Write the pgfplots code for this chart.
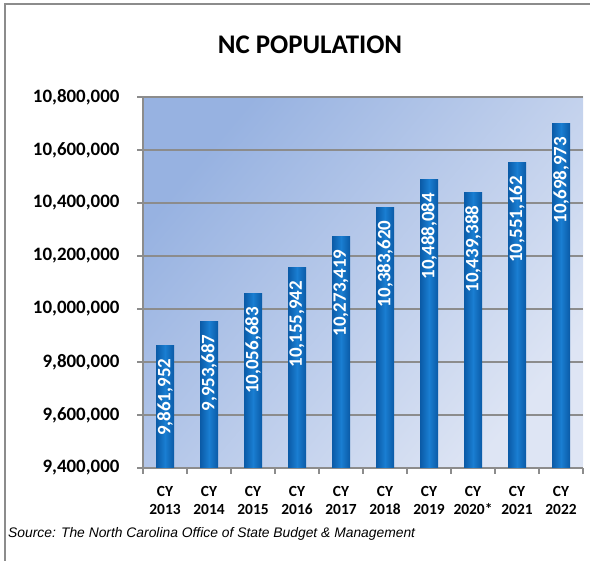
\documentclass[border=0pt]{standalone}
\usepackage{pgfplots}
\pgfplotsset{compat=1.18}
\usepackage{fontspec}
\setmainfont{Carlito}
\newfontfamily\arialfont{Liberation Sans}
\definecolor{bgA}{HTML}{97B2E1}
\definecolor{bgB}{HTML}{DEE5F4}
\definecolor{barD}{HTML}{0A5AA6}
\definecolor{barL}{HTML}{1A7ED2}
\definecolor{gridc}{HTML}{8C8C8C}

\begin{document}
\begin{tikzpicture}
\path[use as bounding box] (0,0) rectangle (590bp,561bp);
\draw[gridc, line width=1.5bp] (5bp,0) -- (5bp,557bp) -- (590bp,557bp);
\node[font=\fontsize{27}{32}\selectfont\bfseries] at (310bp,516bp) {NC POPULATION};
\node[anchor=base west, font=\arialfont\itshape\fontsize{13.9}{16}\selectfont, inner sep=0pt] at (8bp,24bp) {Source: The North Carolina Office of State Budget \& Management};
\begin{axis}[
  at={(143bp,93bp)}, anchor=south west,
  scale only axis, width=440bp, height=371bp,
  xmin=-0.5, xmax=9.5, ymin=9400000, ymax=10800000,
  ybar, bar width=18bp,
  mybar/.style={draw=none, shade, left color=barD, right color=barD, middle color=barL, bar shift=0pt},
  axis x line*=bottom, axis y line*=left,
  x axis line style={gridc, line width=1.5bp},
  y axis line style={gridc, line width=2bp},
  axis background/.style={shade, top color=bgA, bottom color=bgB, shading angle=50},
  tick align=outside,
  major tick length=6bp, minor tick length=6bp,
  scaled y ticks=false,
  xtick={0,1,2,3,4,5,6,7,8,9},
  xticklabels={{CY\\2013},{CY\\2014},{CY\\2015},{CY\\2016},{CY\\2017},{CY\\2018},{CY\\2019},{CY\\2020*},{CY\\2021},{CY\\2022}},
  minor xtick={-0.5,0.5,1.5,2.5,3.5,4.5,5.5,6.5,7.5,8.5,9.5},
  major x tick style={draw=none},
  minor x tick style={gridc, line width=1.2bp},
  xticklabel style={align=center, font=\fontsize{15.5}{18}\selectfont\bfseries, text=black, yshift=-9bp},
  ytick={9400000,9600000,9800000,10000000,10200000,10400000,10600000,10800000},
  yticklabels={{9,400,000},{9,600,000},{9,800,000},{10,000,000},{10,200,000},{10,400,000},{10,600,000},{10,800,000}},
  yticklabel style={font=\fontsize{19}{22}\selectfont\bfseries, text=black, xshift=-14bp},
  ytick style={gridc, line width=1.2bp},
  ymajorgrids, grid style={gridc, line width=1.2bp},
  nodes near coords, point meta=explicit symbolic,
  every node near coord/.append style={yshift=-13bp, rotate=90, anchor=east, text=white, font=\fontsize{19}{22}\selectfont\bfseries, inner sep=0pt},
]
\addplot[mybar] coordinates {(0,9861952) [9,861,952]};
\addplot[mybar] coordinates {(1,9953687) [9,953,687]};
\addplot[mybar] coordinates {(2,10056683) [10,056,683]};
\addplot[mybar] coordinates {(3,10155942) [10,155,942]};
\addplot[mybar] coordinates {(4,10273419) [10,273,419]};
\addplot[mybar] coordinates {(5,10383620) [10,383,620]};
\addplot[mybar] coordinates {(6,10488084) [10,488,084]};
\addplot[mybar] coordinates {(7,10439388) [10,439,388]};
\addplot[mybar] coordinates {(8,10551162) [10,551,162]};
\addplot[mybar] coordinates {(9,10698973) [10,698,973]};
\end{axis}
\end{tikzpicture}
\end{document}
